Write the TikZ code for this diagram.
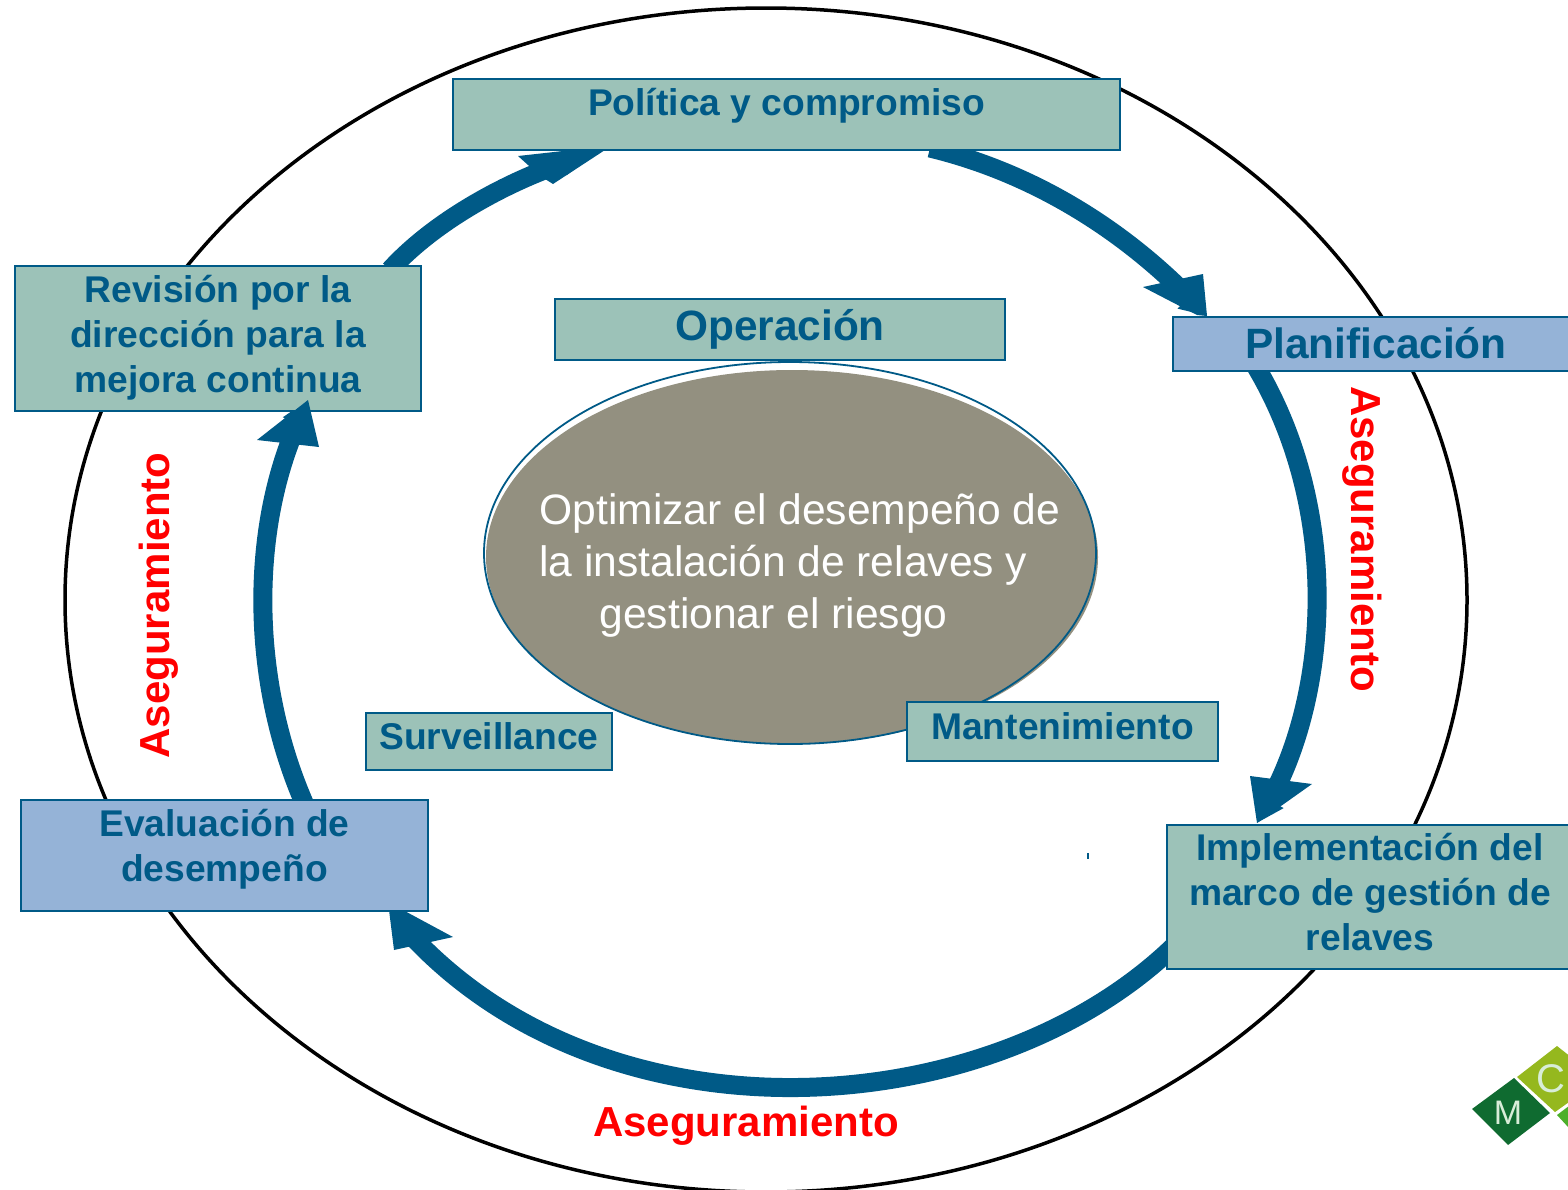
\documentclass[tikz,border=0pt]{standalone}
\usepackage{fontspec}
\setmainfont{Liberation Sans}
\usetikzlibrary{arrows.meta,calc,shapes.geometric}
\pgfdeclarelayer{back}
\pgfsetlayers{back,main}
\definecolor{tealbox}{HTML}{9CC2B8}
\definecolor{bluebox}{HTML}{95B3D7}
\definecolor{deepblue}{HTML}{005A87}
\definecolor{stone}{HTML}{939080}
\definecolor{logoM}{HTML}{0F6B30}
\definecolor{logoC}{HTML}{95B81E}
\definecolor{logoG}{HTML}{4CAF2A}
\definecolor{logoT}{HTML}{D8EDD8}
\newcommand\liftby[2]{\raisebox{#1}[0pt][0pt]{#2}}
\newcommand\threelines[3]{\begin{tabular}[c]{@{}c@{}}#1\\#2\\#3\end{tabular}}
\newcommand\twolines[2]{\begin{tabular}[c]{@{}c@{}}#1\\#2\end{tabular}}
\tikzset{
  sz/.style 2 args={minimum width=#1*0.5pt,minimum height=#2*0.5pt},
  box/.style={rectangle,draw=deepblue,line width=1.1pt,inner sep=0pt,outer sep=0pt,text=deepblue,
    font=\fontsize{18.6}{22.5}\selectfont\bfseries},
  tealnode/.style={box,fill=tealbox},
  bluenode/.style={box,fill=bluebox},
  bigtext/.style={font=\fontsize{21.2}{25}\selectfont\bfseries},
  cycleline/.style={draw=deepblue,line width=9.5pt,-{Triangle[length=13pt,width=15pt]}},
  headfill/.style={fill=deepblue},
  assure/.style={inner sep=0pt,text=red,font=\fontsize{21}{25}\selectfont\bfseries},
}
\begin{document}
\begin{tikzpicture}[x=0.5pt,y=-0.5pt]
\useasboundingbox (0,0) rectangle (1568,1189);
\clip (0,0) rectangle (1568,1189);
\begin{pgfonlayer}{back}
  \fill[white] (0,0) rectangle (1568,1189);
  \draw[black,line width=1.75pt] (766,600) ellipse [x radius=701,y radius=592];
\end{pgfonlayer}
% central ellipse
\fill[stone] (792,557) ellipse [x radius=306,y radius=187];
\node[ellipse,draw=deepblue,line width=0.9pt,inner sep=0pt,outer sep=0pt,sz={612}{382},text=white,
  font=\fontsize{21.3}{26}\selectfont] (goal) at (790,553)
  {\liftby{-11.5pt}{\makebox[0pt]{\hspace*{10pt}\begin{tabular}[c]{@{}l@{}}Optimizar el desempeño de\\la instalación de relaves y\\\hspace*{30pt}gestionar el riesgo\end{tabular}}}};
% boxes
\node[tealnode,sz={667}{71}] (pol) at (786.5,114.5) {\liftby{-0.25pt}{Política y compromiso}};
\node[tealnode,sz={406}{145}] (rev) at (218,338.5) {\liftby{-4.5pt}{\threelines{Revisión por la}{dirección para la}{mejora continua}}};
\node[bluenode,sz={406}{54},bigtext] (plan) at (1376,344) {\liftby{-7pt}{Planificación}};
\node[tealnode,sz={450}{61},bigtext] (oper) at (780,329.5) {\liftby{-5.25pt}{Operación}};
\node[tealnode,sz={246}{57}] (surv) at (489,741.5) {\liftby{-3.75pt}{Surveillance}};
\node[tealnode,sz={311}{59}] (mant) at (1062.5,731.5) {\liftby{-3.75pt}{Mantenimiento}};
\node[bluenode,sz={407}{111}] (eval) at (224.5,855.5) {\liftby{-1.5pt}{\twolines{Evaluación de}{desempeño}}};
\node[tealnode,sz={406}{144}] (impl) at (1370,897) {\liftby{-4pt}{\threelines{Implementación del}{marco de gestión de}{relaves}}};
% arrow ends
\coordinate (t1) at ($(plan.north west)+(34,-1)$);
\coordinate (t2) at ($(impl.north west)+(90,-2)$);
\coordinate (t3) at ($(eval.south east)+(-38,1)$);
\coordinate (t4) at ($(rev.south west)+(293,-11)$);
\coordinate (t5) at ($(pol.south west)+(152,0)$);
% connectors
\begin{pgfonlayer}{back}
  \draw[cycleline] ($(pol.south west)+(477,-2)$) .. controls (1030,172) and (1120,227) .. (t1);
  \draw[cycleline] ($(plan.south west)+(82,-6)$) .. controls (1342,510) and (1329,694) .. (t2);
  \draw[cycleline] ($(impl.south west)+(8,-24)$) .. controls (990,1125) and (605,1150) .. (t3);
  \draw[cycleline] ($(eval.north west)+(284,5)$) .. controls (250,680) and (250,530) .. (t4);
  \draw[cycleline,-{Triangle[length=22pt,width=10pt]}] ($(rev.north east)+(-31,4)$) .. controls (440,215) and (520,177) .. (t5);
  \fill[headfill] (t3) +(-2,-10) -- +(63,25) -- +(4,38) -- cycle;
  \fill[headfill] (t5) -- +(-33,0) -- +(-87,6) -- +(-77,15) -- +(-60,29) -- +(-52,34) -- cycle;
\end{pgfonlayer}
\fill[headfill] (t1) -- +(-10,-1) -- +(-64,-29) -- +(-4,-42) -- cycle;
\fill[headfill] (t2) -- +(-7,-47) -- +(55,-39) -- cycle;
\fill[headfill] (t4) -- +(-51,40) -- +(11,47) -- cycle;
% labels
\node[assure,rotate=90] (as1) at (158.5,605.5) {Aseguramiento};
\node[assure,rotate=-90] (as2) at (1362,539) {Aseguramiento};
\node[assure] (as3) at (746,1125.5) {Aseguramiento};
% stray mark
\fill[deepblue] (1087,853) rectangle (1088.5,859);
% logo
\fill[logoM] (1472,1109) -- (1514,1078) -- (1550,1113) -- (1508,1145) -- cycle;
\fill[logoC] (1517,1077) -- (1557,1046) -- (1600,1080) -- (1555,1112) -- cycle;
\fill[logoG] (1557,1115) -- (1590,1090) -- (1590,1140) -- (1580,1140) -- cycle;
\node[inner sep=0pt,text=logoT,font=\fontsize{17}{20}\selectfont] (logom) at (1508,1113) {M};
\node[inner sep=0pt,text=logoT,font=\fontsize{20}{24}\selectfont] (logoc) at (1551,1079) {C};
\end{tikzpicture}
\end{document}
